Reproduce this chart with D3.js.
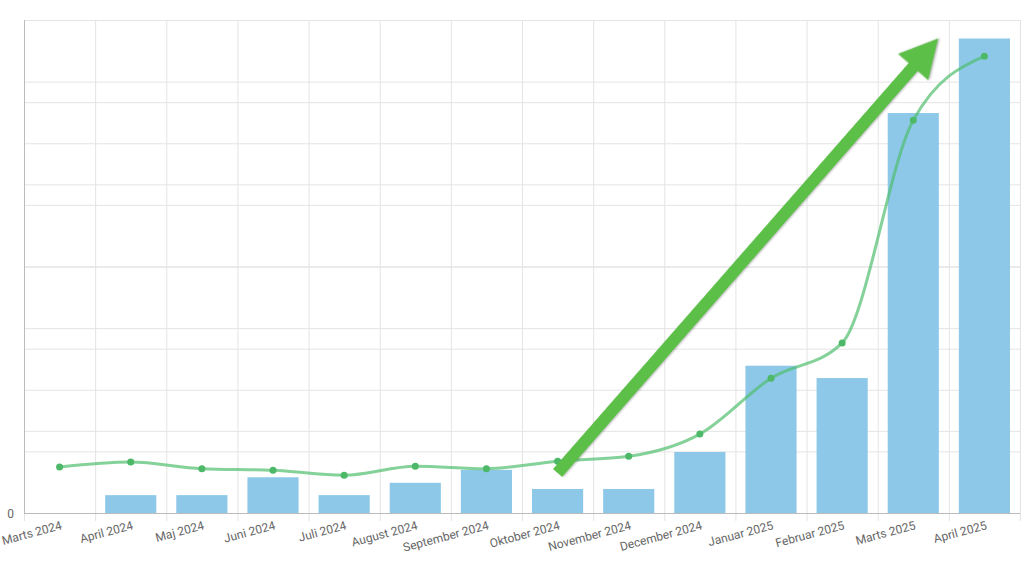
<!DOCTYPE html>
<html><head><meta charset="utf-8">
<script src="https://cdn.jsdelivr.net/npm/d3@7"></script>
<style>body{margin:0;background:#fff}svg{display:block}</style>
</head><body><div id="graph"></div>
<script>
var months = ['Marts 2024','April 2024','Maj 2024','Juni 2024','Juli 2024','August 2024','September 2024','Oktober 2024','November 2024','December 2024','Januar 2025','Februar 2025','Marts 2025','April 2025']
var barValues = [0,0.29,0.29,0.58,0.29,0.49,0.7,0.39,0.39,0.99,2.39,2.19,6.49,7.7]
var lineValues = [0.56,0.62,0.54,0.52,0.46,0.57,0.54,0.63,0.69,0.96,1.64,2.07,4.78,5.56]
var leftTicks = [0,1,2,3,4,5,6,7,8]
var rightTicks = [0,1,2,3,4,5,6]
// arrow annotation in data units (category index, left-axis value)
var arrowFrom = [7, 0.65]
var arrowTo = [12.85, 7.7]

var width = 1024, height = 568
var m = {left: 24, right: 1020, top: 20, bottom: 513}

var svg = d3.select('#graph').append('svg')
	.attr('width', width).attr('height', height)

var x = d3.scaleBand().domain(months).range([m.left, m.right])
var xi = d3.scaleLinear().domain([0, months.length]).range([m.left, m.right])
var yL = d3.scaleLinear().domain([0, 8]).range([m.bottom, m.top])
var yR = d3.scaleLinear().domain([0, 6]).range([m.bottom, m.top])

var grid = svg.append('g').attr('stroke', '#e4e4e4').attr('stroke-width', 1)
grid.selectAll('.gl').data(leftTicks).enter().append('line')
	.attr('x1', m.left).attr('x2', m.right)
	.attr('y1', function(d){ return yL(d)+0.5 }).attr('y2', function(d){ return yL(d)+0.5 })
grid.selectAll('.gr').data(rightTicks).enter().append('line')
	.attr('x1', m.left).attr('x2', m.right)
	.attr('y1', function(d){ return yR(d)+0.5 }).attr('y2', function(d){ return yR(d)+0.5 })
grid.selectAll('.gv').data(d3.range(months.length+1)).enter().append('line')
	.attr('x1', function(d){ return xi(d)+0.5 }).attr('x2', function(d){ return xi(d)+0.5 })
	.attr('y1', m.top).attr('y2', m.bottom+8)

svg.append('line').attr('x1', m.left+0.5).attr('x2', m.left+0.5).attr('y1', m.top).attr('y2', m.bottom)
	.attr('stroke', '#bbb')
svg.append('line').attr('x1', m.left).attr('x2', m.right).attr('y1', m.bottom+0.5).attr('y2', m.bottom+0.5)
	.attr('stroke', '#bbb')

svg.selectAll('.bar').data(barValues).enter().append('rect')
	.attr('x', function(d,i){ return x(months[i]) + 10 })
	.attr('width', x.bandwidth() - 20)
	.attr('y', function(d){ return yL(d) })
	.attr('height', function(d){ return m.bottom - yL(d) })
	.attr('fill', '#8ec8e8')

var line = d3.line()
	.x(function(d,i){ return x(months[i]) + x.bandwidth()/2 })
	.y(function(d){ return yR(d) })
	.curve(d3.curveMonotoneX)
svg.append('path').datum(lineValues).attr('d', line)
	.attr('fill', 'none').attr('stroke', 'rgba(80,190,110,0.7)').attr('stroke-width', 3)
svg.selectAll('.pt').data(lineValues).enter().append('circle')
	.attr('cx', function(d,i){ return x(months[i]) + x.bandwidth()/2 })
	.attr('cy', function(d){ return yR(d) })
	.attr('r', 3.5).attr('fill', '#4cb868')

svg.append('text').attr('x', 14).attr('y', 518).attr('text-anchor', 'end')
	.attr('font-family', 'Roboto, sans-serif').attr('font-size', 12).attr('fill', '#666').text('0')

svg.selectAll('.lbl').data(months).enter().append('text')
	.attr('transform', function(d){ return 'translate(' + (x(d) + x.bandwidth()/2 + 3) + ',529) rotate(-15)' })
	.attr('text-anchor', 'end')
	.attr('font-family', 'Roboto, sans-serif').attr('font-size', 12).attr('fill', '#666')
	.text(function(d){ return d })

// arrow
var x1 = xi(arrowFrom[0] + 0.5), y1 = yL(arrowFrom[1])
var x2 = xi(arrowTo[0]), y2 = yL(arrowTo[1])
var ang = Math.atan2(y2 - y1, x2 - x1), len = Math.hypot(x2 - x1, y2 - y1)
var hl = 38, hw = 20, sw = 6
var pts = [[0,-sw],[len-hl,-sw],[len-hl,-hw],[len,0],[len-hl,hw],[len-hl,sw],[0,sw]]
svg.append('polygon')
	.attr('points', pts.map(function(p){ return p.join(',') }).join(' '))
	.attr('transform', 'translate(' + x1 + ',' + y1 + ') rotate(' + (ang*180/Math.PI) + ')')
	.attr('fill', '#5cbf47')
	.style('filter', 'drop-shadow(1px 1px 1px rgba(0,0,0,0.3))')
</script></body></html>
